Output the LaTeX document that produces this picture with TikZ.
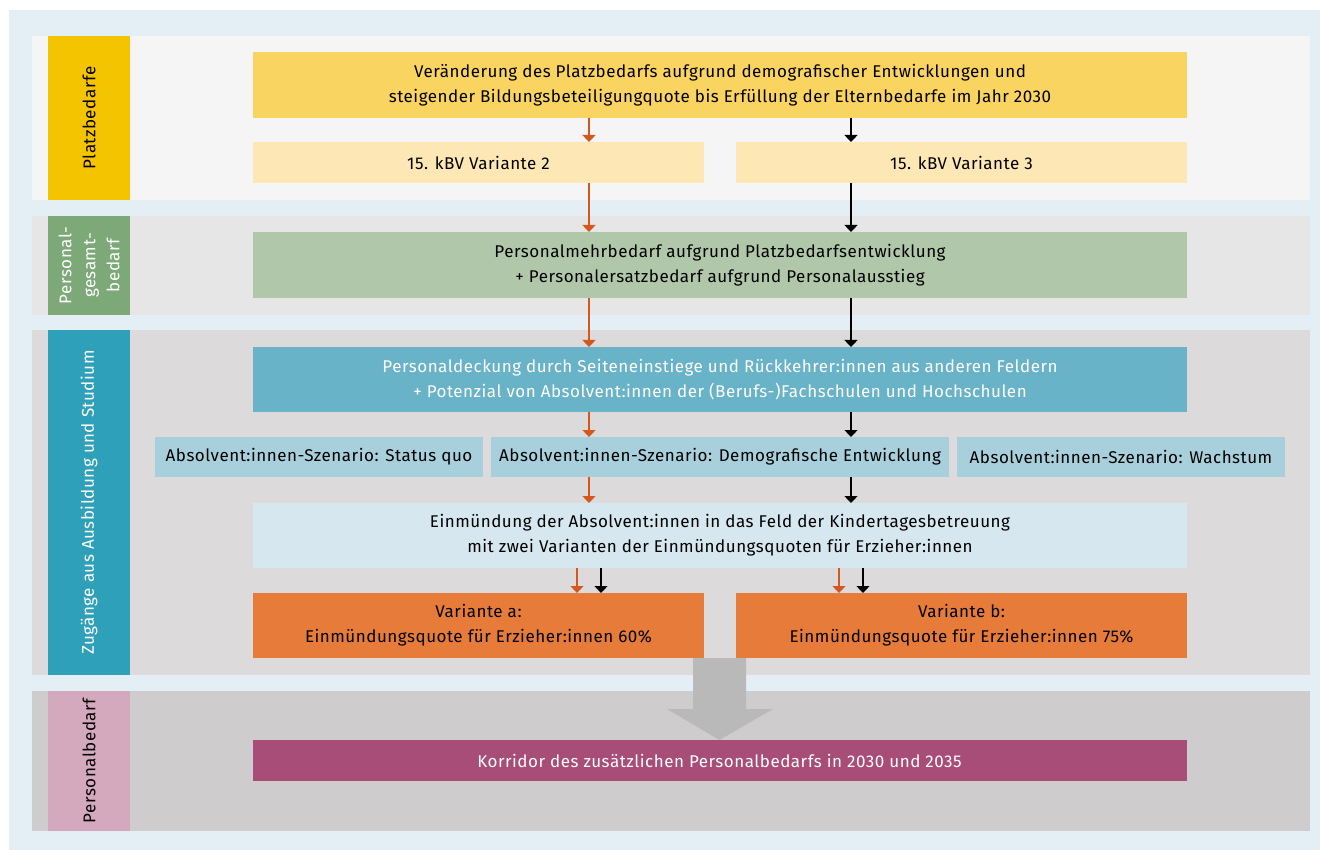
\documentclass[tikz,border=0pt]{standalone}
\usepackage{fontspec}
\setmainfont{Fira Sans}[LetterSpace=3]
\usetikzlibrary{arrows.meta,calc}
\definecolor{bgblue}{HTML}{E4EFF5}
\definecolor{bandA}{HTML}{F5F5F5}
\definecolor{bandB}{HTML}{E6E6E6}
\definecolor{bandC}{HTML}{DCDADB}
\definecolor{bandD}{HTML}{CECCCD}
\definecolor{labA}{HTML}{F5C400}
\definecolor{labB}{HTML}{7DA878}
\definecolor{labC}{HTML}{2EA0B9}
\definecolor{labD}{HTML}{D4A9BD}
\definecolor{boxYellow}{HTML}{FAD461}
\definecolor{boxLightYellow}{HTML}{FDE8B5}
\definecolor{boxGreen}{HTML}{B0C7A9}
\definecolor{boxBlue}{HTML}{69B3C8}
\definecolor{boxScen}{HTML}{A8D0DC}
\definecolor{boxPale}{HTML}{D6E7EF}
\definecolor{boxOrange}{HTML}{E77B3A}
\definecolor{boxMagenta}{HTML}{A84C78}
\definecolor{arrOrange}{HTML}{D2581E}
\definecolor{bigArrow}{HTML}{B9B9B9}
\tikzset{
  every node/.style={font=\fontsize{17}{25}\selectfont, inner sep=0pt, outer sep=0pt},
  box/.style={rectangle, align=center, draw=none},
  lab/.style={rectangle, align=center, draw=none, rotate=90},
  oarr/.style={draw=arrOrange, line width=1.3pt, -{Triangle[width=13pt,length=7pt]}},
  karr/.style={draw=black, line width=1.3pt, -{Triangle[width=13pt,length=7pt]}},
}
\begin{document}
\begin{tikzpicture}[x=1pt,y=-1pt]
\useasboundingbox (0,0) rectangle (1320,850);
% background
\fill[bgblue] (9,10) rectangle (1320,850);
% bands
\fill[bandA] (32,36) rectangle (1310,200);
\fill[bandB] (32,216) rectangle (1310,315);
\fill[bandC] (32,330) rectangle (1310,675);
\fill[bandD] (32,691) rectangle (1310,831);
% label boxes
\node[lab, fill=labA, minimum width=164pt, minimum height=82pt] (l1) at (89,118) {Platzbedarfe};
\node[lab, fill=labB, minimum width=99pt, minimum height=82pt, text=white, font=\fontsize{17}{24}\selectfont] (l2) at (89,265.5) {Personal-\\gesamt-\\bedarf};
\node[lab, fill=labC, minimum width=345pt, minimum height=82pt, text=white] (l3) at (89,502.5) {Zugänge aus Ausbildung und Studium};
\node[lab, fill=labD, minimum width=140pt, minimum height=82pt] (l4) at (89,761) {Personalbedarf};
% boxes
\node[box, fill=boxYellow, minimum width=934pt, minimum height=66pt] (top) at (720,85) {Veränderung des Platzbedarfs aufgrund demografischer Entwicklungen und\\steigender Bildungsbeteiligungquote bis Erfüllung der Elternbedarfe im Jahr 2030};
\node[box, fill=boxLightYellow, minimum width=451pt, minimum height=41pt] (kbv2) at (478.5,162.5) {15. kBV Variante 2};
\node[box, fill=boxLightYellow, minimum width=451pt, minimum height=41pt] (kbv3) at (961.5,162.5) {15. kBV Variante 3};
\node[box, fill=boxGreen, minimum width=934pt, minimum height=66pt] (green) at (720,265) {Personalmehrbedarf aufgrund Platzbedarfsentwicklung\\+ Personalersatzbedarf aufgrund Personalausstieg};
\node[box, fill=boxBlue, minimum width=934pt, minimum height=65pt, text=white] (blue) at (720,379.5) {Personaldeckung durch Seiteneinstiege und Rückkehrer:innen aus anderen Feldern\\+ Potenzial von Absolvent:innen der (Berufs-)Fachschulen und Hochschulen};
\node[box, fill=boxScen, minimum width=328pt, minimum height=40pt] (scen1) at (319,457) {Absolvent:innen-Szenario: Status quo};
\node[box, fill=boxScen, minimum width=458pt, minimum height=40pt] (scen2) at (720,457) {Absolvent:innen-Szenario: Demografische Entwicklung};
\node[box, fill=boxScen, minimum width=328pt, minimum height=40pt] (scen3) at (1121,457) {Absolvent:innen-Szenario: Wachstum};
\node[box, fill=boxPale, minimum width=934pt, minimum height=65pt] (einm) at (720,535.5) {Einmündung der Absolvent:innen in das Feld der Kindertagesbetreuung\\mit zwei Varianten der Einmündungsquoten für Erzieher:innen};
\node[box, fill=boxOrange, minimum width=451pt, minimum height=65pt] (vara) at (478.5,625.5) {Variante a:\\Einmündungsquote für Erzieher:innen 60\%};
\node[box, fill=boxOrange, minimum width=451pt, minimum height=65pt] (varb) at (961.5,625.5) {Variante b:\\Einmündungsquote für Erzieher:innen 75\%};
\node[box, fill=boxMagenta, minimum width=934pt, minimum height=41pt, text=white] (korr) at (719.5,760.5) {Korridor des zusätzlichen Personalbedarfs in 2030 und 2035};
% big arrow
\fill[bigArrow] (693,658) -- (746,658) -- (746,709) -- (773,709) -- (korr.north) -- (667,709) -- (693,709) -- cycle;
% arrow columns
\coordinate (xo) at (589,0);
\coordinate (xk) at (851,0);
\coordinate (xoa) at (577,0);
\coordinate (xka) at (601,0);
\coordinate (xob) at (839,0);
\coordinate (xkb) at (863,0);
\draw[oarr] (xo |- top.south) -- (xo |- kbv2.north);
\draw[karr] (xk |- top.south) -- (xk |- kbv3.north);
\draw[oarr] (xo |- kbv2.south) -- (xo |- green.north);
\draw[karr] (xk |- kbv3.south) -- (xk |- green.north);
\draw[oarr] (xo |- green.south) -- (xo |- blue.north);
\draw[karr] (xk |- green.south) -- (xk |- blue.north);
\draw[oarr] (xo |- blue.south) -- (xo |- scen2.north);
\draw[karr] (xk |- blue.south) -- (xk |- scen2.north);
\draw[oarr] (xo |- scen2.south) -- (xo |- einm.north);
\draw[karr] (xk |- scen2.south) -- (xk |- einm.north);
\draw[oarr] (xoa |- einm.south) -- (xoa |- vara.north);
\draw[karr] (xka |- einm.south) -- (xka |- vara.north);
\draw[oarr] (xob |- einm.south) -- (xob |- varb.north);
\draw[karr] (xkb |- einm.south) -- (xkb |- varb.north);
\end{tikzpicture}
\end{document}
